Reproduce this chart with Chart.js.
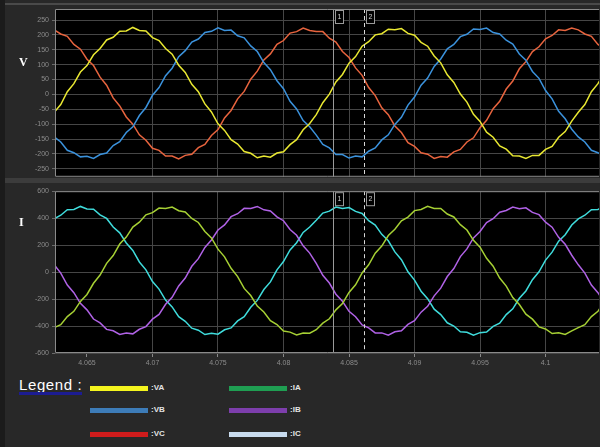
<!DOCTYPE html>
<html>
<head>
<meta charset="utf-8">
<script src="https://cdn.jsdelivr.net/npm/chart.js@4/dist/chart.umd.min.js"></script>
<style>
  html, body { margin: 0; padding: 0; }
  body { width: 600px; height: 447px; overflow: hidden; position: relative; background: #282828; font-family: "Liberation Sans", Arial, sans-serif; }
  .abs { position: absolute; }
  canvas { position: absolute; left: 0; }
  .panel-tag { color: #fff; font: bold 12px "Liberation Serif", "DejaVu Serif", serif; }
  .sw { position: absolute; width: 58px; height: 5px; }
  .lab { position: absolute; color: #e4e4e4; font: bold 8px "Liberation Sans", Arial, sans-serif; }
</style>
</head>
<body>
<div class="abs" style="left:0;top:0;width:5px;height:447px;background:#1b1b1b"></div>
<div class="abs" style="left:5px;top:3px;width:595px;height:2px;background:#4a4a4a"></div>
<div class="abs" style="left:5px;top:178px;width:595px;height:5px;background:#3c3c3c"></div>

<canvas id="cv" width="600" height="184" style="top:0"></canvas>
<canvas id="ci" width="600" height="188" style="top:184px"></canvas>

<div class="abs panel-tag" style="left:19px;top:55px">V</div>
<div class="abs panel-tag" style="left:19px;top:215px">I</div>

<div class="abs" style="left:19px;top:376px;color:#fff;font-size:15px;letter-spacing:0.6px">Legend :</div>
<div class="abs" style="left:19px;top:392px;width:63px;height:3px;background:#1c1c92"></div>

<div class="sw" style="left:90px;top:386px;background:#f4f41e"></div>
<div class="lab" style="left:151px;top:383px">:VA</div>
<div class="sw" style="left:90px;top:408px;background:#3d7cb8"></div>
<div class="lab" style="left:151px;top:405px">:VB</div>
<div class="sw" style="left:90px;top:432px;background:#d01c1c"></div>
<div class="lab" style="left:151px;top:429px">:VC</div>

<div class="sw" style="left:229px;top:386px;background:#1f9e52"></div>
<div class="lab" style="left:290px;top:383px">:IA</div>
<div class="sw" style="left:229px;top:408px;background:#7d3eac"></div>
<div class="lab" style="left:290px;top:405px">:IB</div>
<div class="sw" style="left:229px;top:432px;background:#c8dbee"></div>
<div class="lab" style="left:290px;top:429px">:IC</div>

<script>
// Sample instants (s), 0.5 ms apart
const TIME_S = [4.0625, 4.063, 4.0635, 4.064, 4.0645, 4.065, 4.0655, 4.066, 4.0665, 4.067,
  4.0675, 4.068, 4.0685, 4.069, 4.0695, 4.07, 4.0705, 4.071, 4.0715, 4.072,
  4.0725, 4.073, 4.0735, 4.074, 4.0745, 4.075, 4.0755, 4.076, 4.0765, 4.077,
  4.0775, 4.078, 4.0785, 4.079, 4.0795, 4.08, 4.0805, 4.081, 4.0815, 4.082,
  4.0825, 4.083, 4.0835, 4.084, 4.0845, 4.085, 4.0855, 4.086, 4.0865, 4.087,
  4.0875, 4.088, 4.0885, 4.089, 4.0895, 4.09, 4.0905, 4.091, 4.0915, 4.092,
  4.0925, 4.093, 4.0935, 4.094, 4.0945, 4.095, 4.0955, 4.096, 4.0965, 4.097,
  4.0975, 4.098, 4.0985, 4.099, 4.0995, 4.1, 4.1005, 4.101, 4.1015, 4.102,
  4.1025, 4.103, 4.1035, 4.104, 4.1045];

// Phase voltages (V)
const VA = [-60,-34,9,36,75,97,133,154,183,192, 212,213,225,215,213,191,181,154,135,98,
  74,34,9,-32,-59,-99,-121,-152,-167,-192, -198,-213,-207,-211,-197,-193,-169,-152,-119,-98,
  -68,-28,1,42,67,105,127,162,177,200, 204,219,217,221,205,199,175,162,129,106,
  66,40,1,-26,-67,-91,-127,-144,-173,-184, -206,-207,-215,-205,-205,-185,-175,-144,-125,-90,
  -60,-34,9,36,75];
const VB = [-143,-160,-188,-196,-210,-208,-215,-202,-197,-172, -159,-128,-109,-71,-44,-3,23,63,88,127,
  147,176,186,208,212,224,215,216,197,190, 163,144,107,83,46,19,-23,-49,-88,-109,
  -137,-168,-180,-202,-202,-214,-207,-210,-191,-180, -153,-136,-101,-77,-36,-9,31,55,94,119,
  153,168,194,202,220,218,223,208,203,182, 169,136,115,77,54,13,-15,-57,-82,-117,
  -143,-160,-188,-196,-210];
const VC = [217,203,195,168,152,118,97,58,31,-12, -39,-76,-100,-136,-154,-181,-188,-207,-207,-217,
  -205,-201,-179,-168,-138,-118,-79,-54,-15,10, 51,78,116,136,168,181,206,211,223,215,
  211,211,189,176,144,124,89,64,23,-4, -45,-68,-106,-128,-162,-175,-196,-201,-215,-209,
  -211,-193,-185,-160,-146,-112,-87,-48,-23,18, 45,86,110,144,160,187,198,217,215,223,
  217,203,195,168,152];

// Phase currents (A)
const IA = [-412,-390,-330,-291,-217,-166,-83,-22,65,123, 208,260,334,370,425,441,475,472,483,455,
  446,398,368,301,253,170,113,28,-33,-121, -174,-252,-296,-360,-389,-437,-445,-466,-451,-453,
  -427,-379,-346,-280,-234,-151,-94,-6,54,140, 193,271,318,381,408,456,464,488,472,472,
  431,409,352,312,236,185,102,44,-44,-104, -189,-241,-312,-349,-406,-422,-456,-450,-462,-436,
  -412,-390,-330,-291,-217];
const IB = [54,-7,-96,-153,-232,-280,-348,-377,-425,-435, -462,-451,-458,-424,-404,-349,-314,-239,-187,-103,
  -44,43,100,183,238,312,350,411,433,473, 472,487,462,454,410,381,316,273,195,141,
  65,-24,-81,-164,-216,-291,-331,-392,-414,-451, -451,-468,-443,-435,-388,-360,-297,-254,-176,-119,
  -33,26,115,172,254,301,367,396,444,457, 483,470,477,443,426,370,333,258,206,125,
  54,-7,-96,-153,-232];
const IC = [395,422,463,465,487,468,466,424,398,334, 291,216,161,75,17,-70,-126,-208,-258,-330,
  -365,-416,-431,-463,-453,-460,-428,-414,-362,-330, -261,-210,-129,-73,17,78,164,218,294,334,
  384,438,452,482,472,479,450,435,381,349, 280,232,150,92,2,-59,-142,-197,-275,-315,
  -376,-400,-442,-446,-468,-449,-444,-403,-379,-315, -272,-194,-140,-56,2,89,148,229,277,349,
  395,422,463,465,487];

// Axis ticks and view window
const TIME_TICKS = [4.065, 4.07, 4.075, 4.08, 4.085, 4.09, 4.095, 4.1];
const V_TICKS = [-250, -200, -150, -100, -50, 0, 50, 100, 150, 200, 250];
const I_TICKS = [-600, -400, -200, 0, 200, 400, 600];
const TIME_RANGE = [4.06256, 4.10408];
const V_RANGE = [-277, 287];
const I_RANGE = [-600, 600];
const CURSOR_T = [4.08378, 4.08615];
const CURSOR_NAMES = ['1', '2'];

const TICK_FONT = { family: "'Liberation Sans', Arial, sans-serif", size: 7 };
const TICK_COLOR = '#8c8c8c';
const GRID_COLOR = '#464646';

function series(values, color) {
  return {
    data: TIME_S.map((t, i) => ({ x: t, y: values[i] })),
    borderColor: color,
    borderWidth: 1.5,
    pointRadius: 0,
    tension: 0,
    fill: false
  };
}

// Black plot background and light frame
const plotFrame = {
  id: 'plotFrame',
  beforeDraw(chart) {
    const a = chart.chartArea, c = chart.ctx;
    c.save();
    c.fillStyle = '#000';
    c.fillRect(a.left, a.top, a.right - a.left, a.bottom - a.top);
    c.restore();
  },
  afterDraw(chart) {
    const a = chart.chartArea, c = chart.ctx;
    c.save();
    c.strokeStyle = '#8a8a8a';
    c.lineWidth = 1;
    c.beginPath();
    c.moveTo(a.right, a.top + 0.5); c.lineTo(a.left + 0.5, a.top + 0.5);
    c.lineTo(a.left + 0.5, a.bottom - 0.5); c.lineTo(a.right, a.bottom - 0.5);
    c.stroke();
    c.restore();
  }
};

// Measurement cursors with numbered tags
const cursors = {
  id: 'cursors',
  afterDatasetsDraw(chart) {
    const a = chart.chartArea, c = chart.ctx, xs = chart.scales.x;
    c.save();
    CURSOR_T.forEach((t, i) => {
      const px = Math.round(xs.getPixelForValue(t)) + 0.5;
      c.beginPath();
      c.lineWidth = 1;
      if (i === 0) { c.setLineDash([]); c.strokeStyle = '#9a9a9a'; }
      else { c.setLineDash([4, 3]); c.strokeStyle = '#d8d8d8'; }
      c.moveTo(px, a.top); c.lineTo(px, a.bottom);
      c.stroke();
      c.setLineDash([]);
      c.fillStyle = '#000';
      c.fillRect(px + 2, a.top + 1, 8, 13);
      c.strokeStyle = '#9a9a9a';
      c.strokeRect(px + 2, a.top + 1.5, 8, 13);
      c.fillStyle = '#cfcfcf';
      c.font = "7px 'Liberation Sans', Arial, sans-serif";
      c.textAlign = 'center';
      c.textBaseline = 'middle';
      c.fillText(CURSOR_NAMES[i], px + 6, a.top + 8);
    });
    c.restore();
  }
};

function buildOptions(yTicks, yRange, showTime, padTop, xHeight) {
  return {
    responsive: false,
    animation: false,
    events: [],
    layout: { padding: { top: padTop, right: 1, left: 0, bottom: 0 } },
    plugins: { legend: { display: false }, tooltip: { enabled: false } },
    scales: {
      x: {
        type: 'linear',
        min: TIME_RANGE[0],
        max: TIME_RANGE[1],
        afterBuildTicks: s => { s.ticks = TIME_TICKS.map(v => ({ value: v })); },
        afterFit: s => { s.height = xHeight; },
        ticks: {
          display: showTime,
          color: TICK_COLOR,
          font: TICK_FONT,
          padding: 2,
          maxRotation: 0,
          autoSkip: false,
          callback: v => String(v)
        },
        grid: {
          // the first division has no vertical rule drawn across the plot
          color: ctx => (ctx.index === 0 ? 'rgba(0,0,0,0)' : GRID_COLOR),
          drawTicks: showTime,
          tickLength: 4,
          tickColor: '#8a8a8a'
        },
        border: { display: false }
      },
      y: {
        type: 'linear',
        min: yRange[0],
        max: yRange[1],
        afterBuildTicks: s => { s.ticks = yTicks.map(v => ({ value: v })); },
        afterFit: s => { s.width = 55; },
        ticks: { color: TICK_COLOR, font: TICK_FONT, padding: 3, autoSkip: false },
        grid: { color: GRID_COLOR, drawTicks: true, tickLength: 3, tickColor: '#6a6a6a' },
        border: { display: false }
      }
    }
  };
}

new Chart(document.getElementById('cv'), {
  type: 'line',
  data: { datasets: [series(VA, '#e9e832'), series(VB, '#3b92dc'), series(VC, '#e8643e')] },
  options: buildOptions(V_TICKS, V_RANGE, false, 9, 7),
  plugins: [plotFrame, cursors]
});

new Chart(document.getElementById('ci'), {
  type: 'line',
  data: { datasets: [series(IA, '#a6d034'), series(IB, '#b062e6'), series(IC, '#3fdcdc')] },
  options: buildOptions(I_TICKS, I_RANGE, true, 7, 19),
  plugins: [plotFrame, cursors]
});
</script>
</body>
</html>
